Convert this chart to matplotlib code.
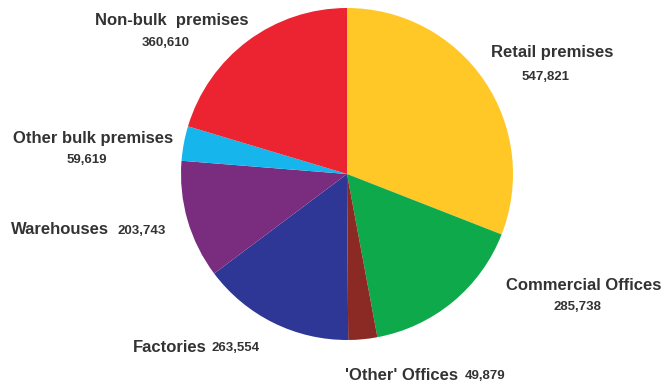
import matplotlib
matplotlib.use("Agg")
import matplotlib.pyplot as plt

categories = ["Retail premises", "Commercial Offices", "'Other' Offices", "Factories",
              "Warehouses", "Other bulk premises", "Non-bulk  premises"]
values = [547821, 285738, 49879, 263554, 203743, 59619, 360610]
colors = ["#FFC826", "#0DA94B", "#8B2A25", "#2E3796", "#7A2C7E", "#16B6EC", "#EC2330"]

plt.rcParams["font.family"] = ["Liberation Sans", "DejaVu Sans"]
TXT = "#333333"

fig = plt.figure(figsize=(6.64, 3.85), dpi=100)
ax = fig.add_axes([181 / 664, 45 / 385, 332 / 664, 332 / 385])
ax.pie(values, colors=colors, startangle=90, counterclock=False, radius=1,
       wedgeprops=dict(linewidth=0))
ax.set_xlim(-1, 1)
ax.set_ylim(-1, 1)
ax.set_aspect("equal")
ax.axis("off")


def px(x, y):
    # figure pixel -> pie data units (centre 347,174, radius 166)
    return (x - 347) / 166, (174 - y) / 166


def fmt(v):
    return f"{v:,}"


name_kw = dict(fontsize=12, fontweight="bold", color=TXT, clip_on=False)
val_kw = dict(fontsize=9.5, fontweight="bold", color=TXT, clip_on=False)

# stacked labels: name above value, both centred
stacked = {
    0: ((552, 52), (546, 77)),
    1: ((584, 285), (577, 307)),
    5: ((93, 138), (87, 160)),
    6: ((172, 20), (166, 43)),
}
for i, (npos, vpos) in stacked.items():
    ax.text(*px(*npos), categories[i], ha="center", va="center", **name_kw)
    ax.text(*px(*vpos), fmt(values[i]), ha="center", va="center", **val_kw)

# inline labels: name then value on one line
inline = {
    2: (345, 465, 375),
    3: (133, 211, 347),
    4: (11, 117, 230),
}
for i, (xn, xv, y) in inline.items():
    ax.text(*px(xn, y), categories[i], ha="left", va="center", **name_kw)
    ax.text(*px(xv, y + 1), fmt(values[i]), ha="left", va="center", **val_kw)

fig.savefig("out.png", dpi=100)
